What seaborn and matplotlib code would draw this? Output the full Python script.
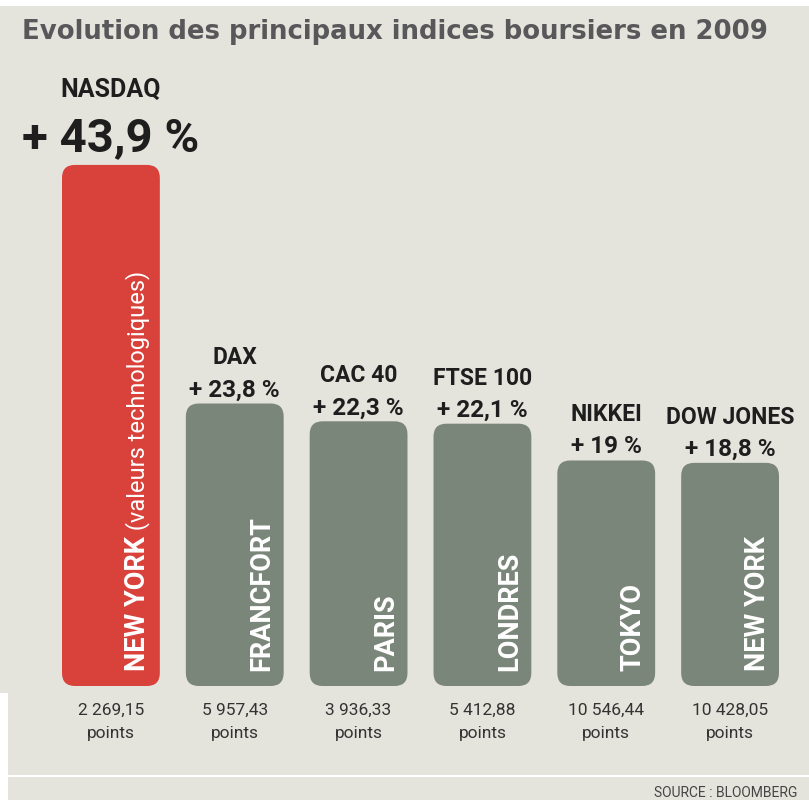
import matplotlib
matplotlib.use("Agg")
import matplotlib.pyplot as plt
import matplotlib.patches as mpatches
import seaborn as sns

# ---- data ----
indices = ["NASDAQ", "DAX", "CAC 40", "FTSE 100", "NIKKEI", "DOW JONES"]
pct_values = [43.9, 23.8, 22.3, 22.1, 19.0, 18.8]
pct_labels = ["+ 43,9 %", "+ 23,8 %", "+ 22,3 %", "+ 22,1 %", "+ 19 %", "+ 18,8 %"]
cities = ["NEW YORK", "FRANCFORT", "PARIS", "LONDRES", "TOKYO", "NEW YORK"]
points = ["2 269,15", "5 957,43", "3 936,33", "5 412,88", "10 546,44", "10 428,05"]
bar_colors = ["#d9413b", "#7a8679", "#7a8679", "#7a8679", "#7a8679", "#7a8679"]

title = "Evolution des principaux indices boursiers en 2009"
source = "SOURCE : BLOOMBERG"

BG = "#e5e4dc"
W, H = 809, 800

sns.set_theme(style="white")
plt.rcParams["font.family"] = ["Roboto", "DejaVu Sans"]

fig = plt.figure(figsize=(W / 100, H / 100), dpi=100, facecolor=BG)

# axes geometry in pixels
ax_left, ax_right = 49, 792
ax_bottom_px = 686          # from top
ymax = 50.0
px_per_unit = 11.87
ax_height_px = ymax * px_per_unit
ax = fig.add_axes([ax_left / W, 1 - ax_bottom_px / H,
                   (ax_right - ax_left) / W, ax_height_px / H])
ax.set_facecolor(BG)

sns.barplot(x=indices, y=pct_values, hue=indices, palette=bar_colors,
            legend=False, width=0.79, saturation=1, ax=ax, order=indices,
            hue_order=indices)
ax.set_xlim(-0.5, 5.5)
ax.set_ylim(0, ymax)
ax.axis("off")

# replace bars by rounded bars
x_per_px = 6.0 / (ax_right - ax_left)
y_per_px = ymax / ax_height_px
radius_px = 13
r = radius_px * x_per_px
asp = y_per_px / x_per_px
for p in list(ax.patches):
    x, y = p.get_x(), p.get_y()
    w, h = p.get_width(), p.get_height()
    fc = p.get_facecolor()
    p.remove()
    rp = mpatches.FancyBboxPatch((x, y), w, h,
                                 boxstyle=f"round,pad=0,rounding_size={r}",
                                 mutation_aspect=asp, fc=fc, ec="none",
                                 lw=0)
    ax.add_patch(rp)

dark = "#1e1e1e"
for i, (name, v, lab, city, pts) in enumerate(zip(indices, pct_values, pct_labels, cities, points)):
    if i == 0:
        ax.annotate(name, xy=(i, v), xytext=(0, 68), textcoords="offset pixels",
                    ha="center", va="baseline", fontsize=18, fontweight="bold", color=dark)
        ax.annotate(lab, xy=(i, v), xytext=(0, 14), textcoords="offset pixels",
                    ha="center", va="baseline", fontsize=34, fontweight="bold", color=dark)
    else:
        ax.annotate(name, xy=(i, v), xytext=(0, 39), textcoords="offset pixels",
                    ha="center", va="baseline", fontsize=16.5, fontweight="bold", color=dark)
        ax.annotate(lab, xy=(i, v), xytext=(0, 7), textcoords="offset pixels",
                    ha="center", va="baseline", fontsize=17.5, fontweight="bold", color=dark)
    # inner vertical city label
    t = ax.annotate(city, xy=(i, 0), xytext=(27, 15), textcoords="offset pixels",
                    ha="center", va="bottom", rotation=90, fontsize=19.5,
                    fontweight="bold", color="white")
    if i == 0:
        ax.annotate(" (valeurs technologiques)", xy=(0.5, 1), xycoords=t,
                    ha="center", va="bottom", rotation=90, fontsize=17,
                    color="white")
    # bottom labels
    ax.annotate(pts, xy=(i, 0), xytext=(0, -29), textcoords="offset pixels",
                ha="center", va="baseline", fontsize=12.5, color="#333333",
                annotation_clip=False)
    ax.annotate("points", xy=(i, 0), xytext=(0, -52), textcoords="offset pixels",
                ha="center", va="baseline", fontsize=12.5, color="#333333",
                annotation_clip=False)

fig.text(22 / W, 1 - 39 / H, title, ha="left", va="baseline",
         fontsize=18.7, fontweight="bold", color="#58585a",
         family=["DejaVu Sans"])
fig.text(797 / W, 3 / H, source, ha="right", va="baseline",
         fontsize=10, color="#444444")

# white frame decorations
fig.patches.append(mpatches.Rectangle((0, 1 - 6 / H), 1, 6 / H,
                                      transform=fig.transFigure, fc="white", ec="none"))
fig.patches.append(mpatches.Rectangle((0, 0), 8 / W, (H - 693) / H,
                                      transform=fig.transFigure, fc="white", ec="none"))
fig.patches.append(mpatches.Rectangle((8 / W, 1 - 777 / H), 1, 2 / H,
                                      transform=fig.transFigure, fc="white", ec="none"))

fig.savefig("out.png", dpi=100, facecolor=BG)
